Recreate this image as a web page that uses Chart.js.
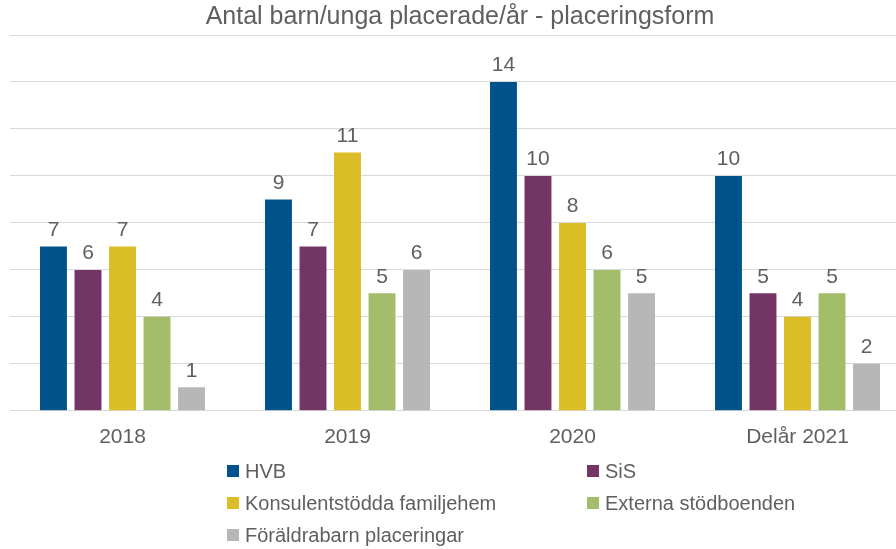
<!DOCTYPE html>
<html>
<head>
<meta charset="utf-8">
<script src="https://cdn.jsdelivr.net/npm/chart.js@4"></script>
<style>
  html, body { margin: 0; padding: 0; background: #fff; overflow: hidden; }
  #wrap { width: 910px; height: 549px; position: relative; }
</style>
</head>
<body>
<div id="wrap"><canvas id="chart"></canvas></div>
<script>
// Data
const categories = ['2018', '2019', '2020', 'Delår 2021'];
const seriesNames = ['HVB', 'SiS', 'Konsulentstödda familjehem', 'Externa stödboenden', 'Föräldrabarn placeringar'];
const hvb = [7, 9, 14, 10];
const sis = [6, 7, 10, 5];
const konsulent = [7, 11, 8, 4];
const externa = [4, 5, 6, 5];
const foraldrabarn = [1, 6, 5, 2];
const yTicks = [0, 2, 4, 6, 8, 10, 12, 14, 16];

const colors = ['#00538a', '#733565', '#dbbd27', '#a3bd6a', '#b7b7b7'];
const textColor = '#5f5f5f';
const fontFamily = '"Liberation Sans", Arial, sans-serif';

// Value labels above each bar
const valueLabels = {
    id: 'valueLabels',
    afterDatasetsDraw(chart) {
        const ctx = chart.ctx;
        ctx.save();
        ctx.font = '21px ' + fontFamily;
        ctx.fillStyle = textColor;
        ctx.textAlign = 'center';
        ctx.textBaseline = 'bottom';
        chart.data.datasets.forEach((ds, i) => {
            chart.getDatasetMeta(i).data.forEach((bar, j) => {
                ctx.fillText(ds.data[j], bar.x, bar.y - 6);
            });
        });
        ctx.restore();
    }
};

// Two-column legend under the axis
const gridLegend = {
    id: 'gridLegend',
    afterDraw(chart) {
        const ctx = chart.ctx;
        ctx.save();
        ctx.font = '20px ' + fontFamily;
        ctx.textBaseline = 'middle';
        const cols = [227, 587];
        const rows = [471, 503, 535];
        chart.data.datasets.forEach((ds, i) => {
            const x = cols[i % 2];
            const y = rows[Math.floor(i / 2)];
            ctx.fillStyle = ds.backgroundColor;
            ctx.fillRect(x, y - 6, 12, 12);
            ctx.fillStyle = textColor;
            ctx.fillText(ds.label, x + 18, y + 1);
        });
        ctx.restore();
    }
};

const seriesData = [hvb, sis, konsulent, externa, foraldrabarn];

new Chart(document.getElementById('chart'), {
    type: 'bar',
    data: {
        labels: categories,
        datasets: seriesNames.map((name, i) => ({
            label: name,
            data: seriesData[i],
            backgroundColor: colors[i],
            borderWidth: 0,
            barPercentage: 0.78,
            categoryPercentage: 0.767
        }))
    },
    options: {
        responsive: true,
        maintainAspectRatio: false,
        animation: false,
        layout: {
            padding: { left: 10, right: 0, top: 0, bottom: 93 }
        },
        plugins: {
            legend: { display: false },
            tooltip: { enabled: false },
            title: {
                display: true,
                text: 'Antal barn/unga placerade/år - placeringsform',
                color: textColor,
                font: { family: fontFamily, size: 25, weight: 'normal' },
                padding: { top: 2, bottom: 3 }
            }
        },
        scales: {
            x: {
                grid: { display: false },
                border: { display: false },
                ticks: {
                    color: textColor,
                    font: { family: fontFamily, size: 21 },
                    padding: 6
                }
            },
            y: {
                min: yTicks[0],
                max: yTicks[yTicks.length - 1],
                afterBuildTicks(axis) {
                    axis.ticks = yTicks.map(v => ({ value: v }));
                },
                ticks: { display: false },
                border: { display: false },
                grid: { color: '#d9d9d9', lineWidth: 1, drawTicks: false }
            }
        }
    },
    plugins: [valueLabels, gridLegend]
});
</script>
</body>
</html>
